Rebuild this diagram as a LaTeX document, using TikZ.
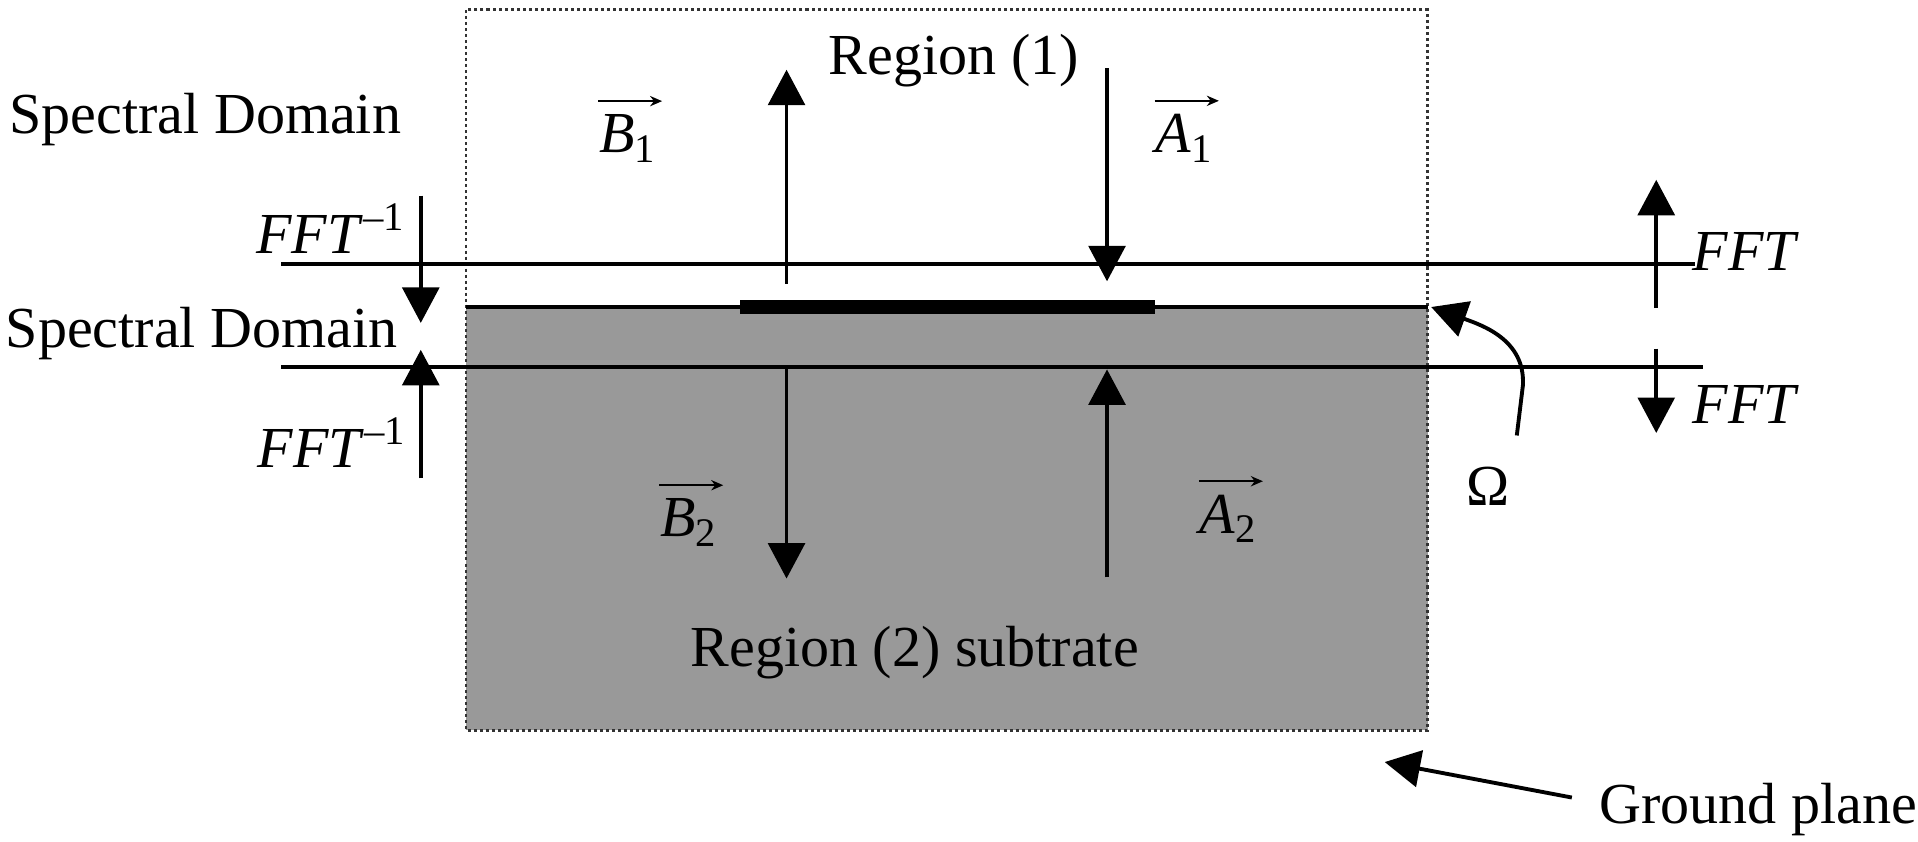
\documentclass[tikz,border=0pt]{standalone}
\usepackage{fontspec}
\setmainfont{Liberation Serif}
\usetikzlibrary{arrows.meta}
\definecolor{substrate}{RGB}{153,153,153}
\newcommand{\FFTinv}{\textit{FFT}\textsuperscript{–1}}
\newcommand{\wave}[2]{\textit{#1}\textsubscript{#2}}

\begin{document}
\begin{tikzpicture}[
  lbl/.style={inner sep=0pt,anchor=base west,font=\fontsize{13.5}{16}\selectfont},
  field/.style={line width=0.9pt,-{Triangle[width=0.30cm,length=0.29cm]}},
  vecbar/.style={line width=0.4pt,-{Stealth[width=2.4pt,length=2.8pt]}},
  plane/.style={line width=0.9pt}]
\useasboundingbox (0,0) rectangle (15.68,-6.88);

% substrate and air box
\fill[substrate] (3.81,-2.51) rectangle (11.67,-5.97);
\draw[black!80,line width=0.6pt,dash pattern=on 0.7pt off 0.7pt] (3.81,-0.08) rectangle (11.67,-5.97);
\draw[plane] (3.81,-2.51) -- (11.67,-2.51);
\fill (6.05,-2.45) rectangle (9.44,-2.57);

% spectral domain planes
\coordinate (up-l) at (2.30,-2.16);
\coordinate (up-r) at (13.86,-2.16);
\coordinate (lo-l) at (2.30,-3.00);
\coordinate (lo-r) at (13.92,-3.00);
\draw[plane] (up-l) -- (up-r);
\draw[plane] (lo-l) -- (lo-r);

% labels
\node[lbl] (sd-1) at (0.07,-1.09) {Spectral Domain};
\node[lbl] (sd-2) at (0.04,-2.84) {Spectral Domain};
\node[lbl] (ifft-1) at (2.09,-2.07) {\FFTinv};
\node[lbl] (ifft-2) at (2.10,-3.82) {\FFTinv};
\node[lbl] (fft-1) at (13.83,-2.21) {\textit{FFT}};
\node[lbl] (fft-2) at (13.83,-3.46) {\textit{FFT}};
\node[lbl] (reg-1) at (6.77,-0.61) {Region (1)};
\node[lbl] (reg-2) at (5.64,-5.45) {Region (2) subtrate};
\node[lbl] (B-1) at (4.89,-1.25) {\wave{B}{1}};
\node[lbl] (A-1) at (9.44,-1.25) {\wave{A}{1}};
\node[lbl] (B-2) at (5.39,-4.39) {\wave{B}{2}};
\node[lbl] (A-2) at (9.80,-4.36) {\wave{A}{2}};
\node[lbl] (omega) at (11.98,-4.13) {Ω};
\node[lbl] (gnd) at (13.07,-6.73) {Ground plane};

% vector marks
\foreach \w in {B-1,A-1,B-2,A-2}
  \draw[vecbar] ([yshift=3pt]\w.north west) -- ([xshift=1pt,yshift=3pt]\w.north east);

% waves
\coordinate (B-1s) at (6.43,-2.32);
\coordinate (B-1e) at (6.43,-0.57);
\coordinate (A-1s) at (9.05,-0.56);
\coordinate (A-1e) at (9.05,-2.30);
\coordinate (B-2s) at (6.43,-3.00);
\coordinate (B-2e) at (6.43,-4.73);
\coordinate (A-2s) at (9.05,-4.72);
\coordinate (A-2e) at (9.05,-3.02);
\draw[field] (B-1s) -- (B-1e);
\draw[field] (A-1s) -- (A-1e);
\draw[field] (B-2s) -- (B-2e);
\draw[field] (A-2s) -- (A-2e);

% transforms
\coordinate (ifft-1s) at (3.44,-1.60);
\coordinate (ifft-1e) at (3.44,-2.64);
\coordinate (ifft-2s) at (3.44,-3.91);
\coordinate (ifft-2e) at (3.44,-2.86);
\coordinate (fft-1s) at (13.54,-2.52);
\coordinate (fft-1e) at (13.54,-1.47);
\coordinate (fft-2s) at (13.54,-2.85);
\coordinate (fft-2e) at (13.54,-3.54);
\draw[field] (ifft-1s) -- (ifft-1e);
\draw[field] (ifft-2s) -- (ifft-2e);
\draw[field] (fft-1s) -- (fft-1e);
\draw[field] (fft-2s) -- (fft-2e);

% pointers
\coordinate (om-s) at (12.40,-3.56);
\coordinate (om-e) at (11.70,-2.51);
\coordinate (gnd-s) at (12.85,-6.52);
\coordinate (gnd-e) at (11.32,-6.23);
\draw[field] (om-s) -- (12.45,-3.15) .. controls (12.47,-2.78) and (12.12,-2.66) .. (om-e);
\draw[field] (gnd-s) -- (gnd-e);
\end{tikzpicture}
\end{document}
